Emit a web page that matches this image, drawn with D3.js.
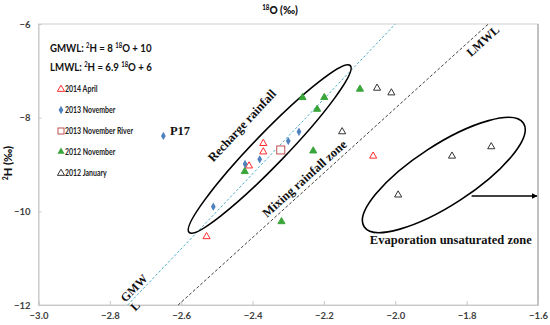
<!DOCTYPE html>
<html>
<head>
<meta charset="utf-8">
<script src="https://cdn.jsdelivr.net/npm/d3@7"></script>
<style>
  body { margin: 0; background: #fff; }
  svg { display: block; }
</style>
</head>
<body>
<svg id="chart"></svg>
<script>
// sample groups, [d18O, d2H]
const april2014 = [[-2.370, -8.55], [-2.370, -8.73], [-2.410, -9.03], [-2.529, -10.54], [-2.062, -8.82]];
const nov2013 = [[-2.650, -8.39], [-2.421, -8.99], [-2.380, -8.89], [-2.300, -8.50], [-2.270, -8.30], [-2.510, -9.90]];
const nov2013River = [[-2.321, -8.69]];
const nov2012 = [[-2.260, -7.57], [-2.199, -7.57], [-2.219, -7.82], [-2.230, -8.71], [-2.422, -9.15], [-2.319, -10.22], [-2.099, -7.39]];
const jan2012 = [[-2.051, -7.37], [-2.011, -7.47], [-2.149, -8.30], [-1.841, -8.82], [-1.992, -9.65], [-1.731, -8.62]];

const xTicks = [-3.0, -2.8, -2.6, -2.4, -2.2, -2.0, -1.8, -1.6];
const yTicks = [-12, -10, -8, -6];

const width = 550, height = 325;
const margin = { top: 24, right: 12, bottom: 20, left: 38.5 };

const svg = d3.select("#chart").attr("width", width).attr("height", height);

const x = d3.scaleLinear().domain([-3, -1.6]).range([margin.left, width - margin.right]);
const y = d3.scaleLinear().domain([-12, -6]).range([height - margin.bottom, margin.top]);

const sans = "Lato, 'Open Sans', sans-serif";
const serif = "'Liberation Serif', 'DejaVu Serif', serif";

// frame
svg.append("rect")
  .attr("x", x(-3)).attr("y", y(-6))
  .attr("width", x(-1.6) - x(-3)).attr("height", y(-12) - y(-6))
  .attr("fill", "none").attr("stroke", "#cfcfcf");
svg.append("line")
  .attr("x1", x(-1.6)).attr("x2", x(-1.6)).attr("y1", y(-6)).attr("y2", y(-12))
  .attr("stroke", "#9a9a9a");

// axes
const xAxis = svg.append("g")
  .attr("transform", `translate(0,${y(-12)})`)
  .call(d3.axisBottom(x).tickValues(xTicks).tickFormat(d3.format(".1f")).tickSize(-4).tickPadding(7));
const yAxis = svg.append("g")
  .attr("transform", `translate(${x(-3)},0)`)
  .call(d3.axisLeft(y).tickValues(yTicks).tickFormat(d3.format("d")).tickSize(-3).tickPadding(8));
[xAxis, yAxis].forEach(a => {
  a.select(".domain").attr("stroke", "#c8c8c8");
  a.selectAll(".tick line").attr("stroke", "#c8c8c8");
  a.selectAll("text").attr("font-family", sans).attr("font-weight", "bold")
    .attr("font-size", 9.5).attr("fill", "#404040");
});

// meteoric water lines
svg.append("line")
  .attr("x1", x((-12 - 10) / 8)).attr("y1", y(-12))
  .attr("x2", x((-6 - 10) / 8)).attr("y2", y(-6))
  .attr("stroke", "#4bacc6").attr("stroke-width", 1).attr("stroke-dasharray", "2.5,2");
svg.append("line")
  .attr("x1", x((-12 - 6) / 6.9)).attr("y1", y(-12))
  .attr("x2", x((-6 - 6) / 6.9)).attr("y2", y(-6))
  .attr("stroke", "#404040").attr("stroke-width", 1).attr("stroke-dasharray", "3,2");

// ellipses (centres in data units)
function ellipse(cx, cy, rx, ry, angle) {
  svg.append("ellipse")
    .attr("cx", 0).attr("cy", 0).attr("rx", rx).attr("ry", ry)
    .attr("transform", `translate(${x(cx)},${y(cy)}) rotate(${angle})`)
    .attr("fill", "none").attr("stroke", "#000").attr("stroke-width", 1.6);
}
ellipse(-2.352, -8.669, 116, 16, -46);
ellipse(-1.864, -9.224, 95, 30, -33);

// arrow
svg.append("defs").append("marker")
  .attr("id", "arrow")
  .attr("viewBox", "0 -5 10 10")
  .attr("refX", 9).attr("refY", 0)
  .attr("markerWidth", 6).attr("markerHeight", 6)
  .attr("markerUnits", "userSpaceOnUse")
  .attr("orient", "auto")
  .append("path").attr("d", "M0,-5L10,0L0,5Z").attr("fill", "#000");
svg.append("line")
  .attr("x1", x(-1.786)).attr("x2", x(-1.603))
  .attr("y1", y(-9.673)).attr("y2", y(-9.673))
  .attr("stroke", "#000").attr("stroke-width", 1.4)
  .attr("marker-end", "url(#arrow)");

// markers
const tri = d3.symbol().type(d3.symbolTriangle).size(22);
const diamond = d3.symbol().type(d3.symbolDiamond).size(20);

function drawTriangles(data, fill, stroke) {
  svg.append("g").selectAll("path")
    .data(data).enter().append("path")
    .attr("d", tri)
    .attr("transform", d => `translate(${x(d[0])},${y(d[1])})`)
    .attr("fill", fill).attr("stroke", stroke).attr("stroke-width", 1);
}
drawTriangles(april2014, "#fff", "#ff2a2a");
drawTriangles(nov2012, "#3aa53a", "#3aa53a");
drawTriangles(jan2012, "#fff", "#333");
svg.append("g").selectAll("path")
  .data(nov2013).enter().append("path")
  .attr("d", diamond)
  .attr("transform", d => `translate(${x(d[0])},${y(d[1])})`)
  .attr("fill", "#4f81bd");
svg.append("g").selectAll("rect")
  .data(nov2013River).enter().append("rect")
  .attr("x", d => x(d[0]) - 4).attr("y", d => y(d[1]) - 4)
  .attr("width", 8).attr("height", 8)
  .attr("fill", "#fff").attr("stroke", "#c0504d").attr("stroke-width", 1);

// text with superscripts: parts = [[text, sup?, dropBack?], ...]
function richText(g, parts, size) {
  parts.forEach(p => {
    if (p[1]) {
      g.append("tspan").attr("font-size", size * 0.62).attr("dy", -size * 0.38).text(p[0]);
    } else {
      const t = g.append("tspan").attr("font-size", size).text(p[0]);
      if (p[2]) t.attr("dy", size * 0.38);
    }
  });
}

// axis titles
const xt = svg.append("text").attr("transform", "translate(280,14) scale(0.92,1)")
  .attr("text-anchor", "middle").attr("font-family", sans).attr("font-weight", "900").attr("fill", "#111");
richText(xt, [["18", true], ["O (‰)", false, true]], 11);
const yt = svg.append("text")
  .attr("transform", "translate(12,163) rotate(-90)")
  .attr("text-anchor", "middle").attr("font-family", sans).attr("font-weight", "900").attr("fill", "#111");
richText(yt, [["2", true], ["H (‰)", false, true]], 11);

// equations
const eq1 = svg.append("text").attr("transform", "translate(50,52) scale(0.92,1)")
  .attr("font-family", sans).attr("font-weight", "bold").attr("fill", "#111");
richText(eq1, [["GMWL:  ", false], ["2", true], ["H = 8 ", false, true], ["18", true], ["O + 10", false, true]], 10.5);
const eq2 = svg.append("text").attr("transform", "translate(50,71) scale(0.92,1)")
  .attr("font-family", sans).attr("font-weight", "bold").attr("fill", "#111");
richText(eq2, [["LMWL:  ", false], ["2", true], ["H = 6.9 ", false, true], ["18", true], ["O + 6", false, true]], 10.5);

// legend
const legendItems = ["2014 April", "2013 November", "2013 November River", "2012 November", "2012 January"];
const legendY = [89.3, 110, 131, 151.7, 173.3];
const legend = svg.append("g");
legendItems.forEach((name, i) => {
  const ly = legendY[i];
  if (i === 0) legend.append("path").attr("d", tri).attr("transform", `translate(61,${ly})`)
    .attr("fill", "#fff").attr("stroke", "#ff2a2a");
  if (i === 1) legend.append("path").attr("d", diamond).attr("transform", `translate(61,${ly})`)
    .attr("fill", "#4f81bd");
  if (i === 2) legend.append("rect").attr("x", 58).attr("y", ly - 3).attr("width", 6).attr("height", 6)
    .attr("fill", "#fff").attr("stroke", "#c0504d");
  if (i === 3) legend.append("path").attr("d", tri).attr("transform", `translate(61,${ly})`)
    .attr("fill", "#3aa53a");
  if (i === 4) legend.append("path").attr("d", tri).attr("transform", `translate(61,${ly})`)
    .attr("fill", "#fff").attr("stroke", "#333");
  legend.append("text").attr("transform", `translate(65,${ly}) scale(0.82,1)`).attr("dy", "0.35em")
    .attr("font-family", sans).attr("font-weight", "bold").attr("font-size", 8.5)
    .attr("fill", "#222").text(name);
});

// annotations (anchored in data units)
function note(label, px, py, angle, size, anchor = "middle") {
  svg.append("text")
    .attr("transform", `translate(${x(px)},${y(py)}) rotate(${angle})`)
    .attr("text-anchor", anchor).attr("dy", "0.35em")
    .attr("font-family", serif).attr("font-weight", "bold").attr("font-size", size)
    .attr("fill", "#111").text(label);
}
note("P17", -2.6317, -8.285, 0, 12.5, "start");
note("Recharge rainfall", -2.430, -8.167, -47, 12.5);
note("Mixing rainfall zone", -2.2549, -9.299, -42, 12.5);
note("LMWL", -1.755, -6.363, -42, 12);
note("GMW", -2.7325, -11.637, -46, 12);
note("L", -2.7297, -12.02, -46, 12);
note("Evaporation unsaturated zone", -1.8445, -10.612, 0, 12.5);
</script>
</body>
</html>
